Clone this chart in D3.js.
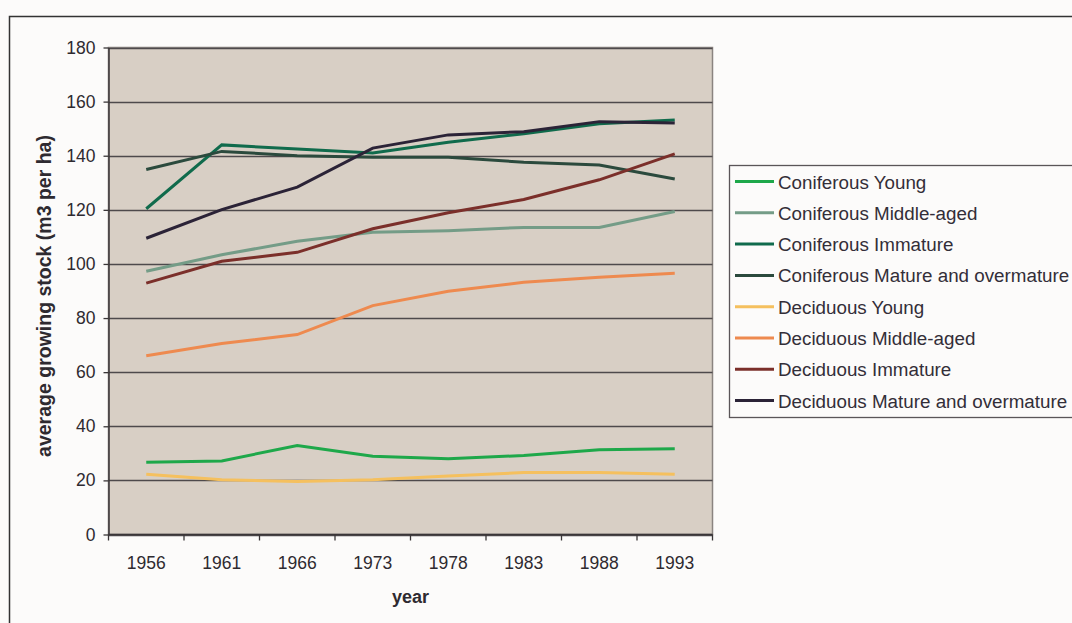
<!DOCTYPE html>
<html>
<head>
<meta charset="utf-8">
<script src="https://cdn.jsdelivr.net/npm/d3@7"></script>
<style>
  body { margin: 0; background: #fcfbfa; }
  svg { display: block; font-family: "Liberation Sans", Arial, sans-serif; }
</style>
</head>
<body>
<div id="chart"></div>
<script>
// years on the x axis
let years = ["1956", "1961", "1966", "1973", "1978", "1983", "1988", "1993"];
let yTicks = [0, 20, 40, 60, 80, 100, 120, 140, 160, 180];

let seriesNames = [
  "Coniferous Young",
  "Coniferous Middle-aged",
  "Coniferous Immature",
  "Coniferous Mature and overmature",
  "Deciduous Young",
  "Deciduous Middle-aged",
  "Deciduous Immature",
  "Deciduous Mature and overmature"
];

let coniferousYoung   = [26.7, 27.2, 32.9, 28.9, 28.0, 29.2, 31.3, 31.7];
let coniferousMiddle  = [97.3, 103.4, 108.4, 111.7, 112.3, 113.5, 113.5, 119.4];
let coniferousImm     = [120.4, 144.0, 142.5, 141.0, 145.0, 148.1, 151.8, 153.2];
let coniferousMature  = [134.9, 141.6, 140.0, 139.4, 139.4, 137.6, 136.6, 131.4];
let deciduousYoung    = [22.3, 20.2, 19.6, 20.2, 21.6, 22.9, 22.9, 22.3];
let deciduousMiddle   = [66.1, 70.6, 73.9, 84.6, 89.9, 93.2, 95.1, 96.6];
let deciduousImm      = [92.9, 101.0, 104.3, 113.0, 118.9, 123.8, 131.1, 140.7];
let deciduousMature   = [109.5, 120.1, 128.4, 142.8, 147.7, 148.9, 152.6, 152.1];

let seriesValues = [coniferousYoung, coniferousMiddle, coniferousImm, coniferousMature,
                    deciduousYoung, deciduousMiddle, deciduousImm, deciduousMature];

let colors = ["#1ea84a", "#749c87", "#106b4c", "#2b4a3d",
              "#f5c05e", "#ee8a4f", "#7b2f2a", "#2b2337"];

let width = 1072, height = 623;
let plot = { left: 108.5, right: 712.5, top: 47.5, bottom: 534.5 };

let svg = d3.select("#chart").append("svg")
  .attr("width", width)
  .attr("height", height);

// outer chart frame (runs off the right/bottom edge)
svg.append("rect")
  .attr("x", 9.5).attr("y", 16.5)
  .attr("width", 1100).attr("height", 700)
  .attr("fill", "none")
  .attr("stroke", "#333")
  .attr("stroke-width", 1.5);

let xScale = d3.scaleBand()
  .domain(years)
  .range([plot.left, plot.right])
  .padding(0);

let yScale = d3.scaleLinear()
  .domain([0, 180])
  .range([plot.bottom, plot.top]);

// plot background
svg.append("rect")
  .attr("x", plot.left).attr("y", plot.top)
  .attr("width", plot.right - plot.left)
  .attr("height", plot.bottom - plot.top)
  .attr("fill", "#d8cfc5")
  .attr("stroke", "#8a8480")
  .attr("stroke-width", 1.5);

// gridlines
svg.append("g").selectAll("line")
  .data(yTicks)
  .enter().append("line")
  .attr("x1", plot.left).attr("x2", plot.right)
  .attr("y1", d => Math.round(yScale(d)) + 0.5)
  .attr("y2", d => Math.round(yScale(d)) + 0.5)
  .attr("stroke", "#4e4a4c")
  .attr("stroke-width", 1.3);

// y axis
let yAxis = d3.axisLeft(yScale)
  .tickValues(yTicks)
  .tickSize(5)
  .tickPadding(8)
  .tickSizeOuter(0);

svg.append("g")
  .attr("transform", `translate(${plot.left},0)`)
  .call(yAxis)
  .call(g => g.select(".domain").attr("stroke", "#3a3638").attr("stroke-width", 1.5))
  .call(g => g.selectAll(".tick line").attr("stroke", "#3a3638").attr("stroke-width", 1.3))
  .call(g => g.selectAll(".tick text")
    .attr("fill", "#2e2a30")
    .style("font-size", "17.5px")
    .style("font-family", "Liberation Sans, Arial, sans-serif"));

// x axis: ticks sit between categories
let xAxisG = svg.append("g")
  .attr("transform", `translate(0,${plot.bottom})`);

xAxisG.append("line")
  .attr("x1", plot.left).attr("x2", plot.right)
  .attr("stroke", "#3a3638").attr("stroke-width", 1.5);

let bounds = years.map(d => xScale(d)).concat([xScale.range()[1]]);
xAxisG.selectAll(".xtick")
  .data(bounds)
  .enter().append("line")
  .attr("class", "xtick")
  .attr("x1", d => d).attr("x2", d => d)
  .attr("y1", 0).attr("y2", 6)
  .attr("stroke", "#3a3638").attr("stroke-width", 1.3);

xAxisG.selectAll(".xlabel")
  .data(years)
  .enter().append("text")
  .attr("class", "xlabel")
  .attr("x", d => xScale(d) + xScale.bandwidth() / 2)
  .attr("y", 34)
  .attr("text-anchor", "middle")
  .attr("fill", "#2e2a30")
  .style("font-size", "17.5px")
  .text(d => d);

// axis titles
svg.append("text")
  .attr("x", (plot.left + plot.right) / 2)
  .attr("y", 603)
  .attr("text-anchor", "middle")
  .attr("font-weight", "bold")
  .attr("fill", "#2e2a30")
  .style("font-size", "18px")
  .text("year");

svg.append("text")
  .attr("transform", `translate(51,296) rotate(-90)`)
  .attr("text-anchor", "middle")
  .attr("font-weight", "bold")
  .attr("fill", "#2e2a30")
  .style("font-size", "19.5px")
  .text("average growing stock (m3 per ha)");

// lines
let line = d3.line()
  .x((d, i) => xScale(years[i]) + xScale.bandwidth() / 2)
  .y(d => yScale(d));

svg.append("g").selectAll("path")
  .data(seriesValues)
  .enter().append("path")
  .attr("d", d => line(d))
  .attr("fill", "none")
  .attr("stroke", (d, i) => colors[i])
  .attr("stroke-width", 3)
  .attr("stroke-linejoin", "miter");

// legend
let legend = svg.append("g");
legend.append("rect")
  .attr("x", 729.5).attr("y", 165.5)
  .attr("width", 400).attr("height", 252)
  .attr("fill", "#fcfbfa")
  .attr("stroke", "#5a5558")
  .attr("stroke-width", 1.3);

let items = legend.selectAll(".item")
  .data(seriesNames)
  .enter().append("g")
  .attr("class", "item")
  .attr("transform", (d, i) => `translate(0,${181.5 + i * 31.3})`);

items.append("line")
  .attr("x1", 735).attr("x2", 774)
  .attr("stroke", (d, i) => colors[i])
  .attr("stroke-width", 3);

items.append("text")
  .attr("x", 778)
  .attr("y", 7)
  .attr("fill", "#332e38")
  .style("font-size", "18.8px")
  .text(d => d);
</script>
</body>
</html>
